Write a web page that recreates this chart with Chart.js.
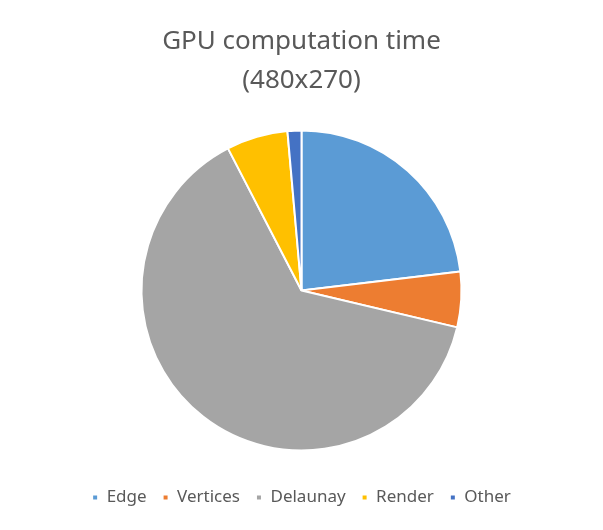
<!DOCTYPE html>
<html>
<head>
<meta charset="utf-8">
<script src="https://cdn.jsdelivr.net/npm/chart.js@4"></script>
<style>
html,body{margin:0;padding:0;background:#fff;}
#wrap{width:603px;height:530px;}
</style>
</head>
<body>
<div id="wrap"><canvas id="c" width="603" height="530"></canvas></div>
<script>
const categories = ["Edge", "Vertices", "Delaunay", "Render", "Other"];
const values = [23.1, 5.6, 63.7, 6.2, 1.4];
const colors = ["#5B9BD5", "#ED7D31", "#A5A5A5", "#FFC000", "#4472C4"];
const titleLines = ["GPU computation time", "(480x270)"];

new Chart(document.getElementById('c'), {
  type: 'pie',
  data: {
    labels: categories,
    datasets: [{
      data: values,
      backgroundColor: colors,
      borderColor: '#ffffff',
      borderWidth: 2,
      radius: 160
    }]
  },
  options: {
    responsive: false,
    animation: false,
    layout: { padding: { top: 0, bottom: 14, left: 0, right: 0 } },
    plugins: {
      tooltip: { enabled: false },
      title: {
        display: true,
        text: titleLines,
        color: '#595959',
        font: { family: 'Noto Sans', size: 26, weight: 'normal', lineHeight: 1.5 },
        padding: { top: 22, bottom: 8 }
      },
      legend: {
        position: 'bottom',
        labels: {
          color: '#595959',
          font: { family: 'Noto Sans', size: 17 },
          boxWidth: 6,
          boxHeight: 6,
          padding: 16
        }
      }
    }
  }
});
</script>
</body>
</html>
